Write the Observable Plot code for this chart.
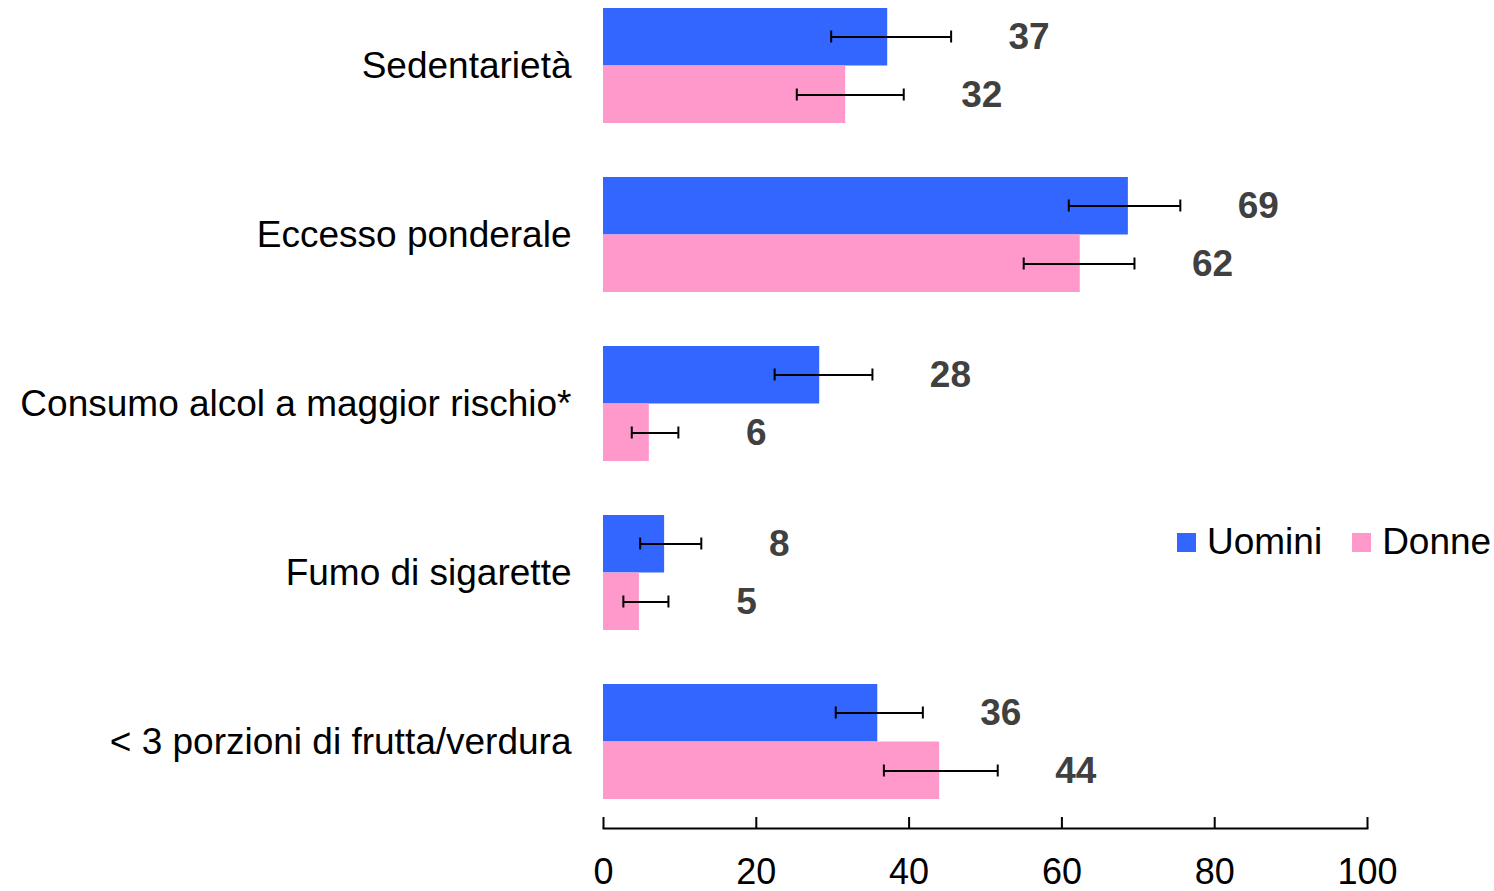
<!DOCTYPE html>
<html>
<head>
<meta charset="utf-8">
<script src="https://cdn.jsdelivr.net/npm/d3@7"></script>
<script src="https://cdn.jsdelivr.net/npm/@observablehq/plot@0.6"></script>
<style>
  html, body { margin: 0; padding: 0; background: #fff; }
  #wrap { position: relative; width: 1494px; height: 891px; font-family: "Liberation Sans", Arial, sans-serif; }
  #legend { position: absolute; left: 1177px; top: 521px; display: flex; align-items: center; font-size: 37px; color: #000; }
  #legend .sw { display: inline-block; width: 19px; height: 19px; margin-right: 11px; }
  #legend .item { display: flex; align-items: center; margin-right: 30px; }
</style>
</head>
<body>
<div id="wrap"></div>
<script>
const categories = ["Sedentarietà", "Eccesso ponderale", "Consumo alcol a maggior rischio*", "Fumo di sigarette", "< 3 porzioni di frutta/verdura"];
const series = ["Uomini", "Donne"];
const colors = ["#3366ff", "#ff99cc"];

const uomini   = [37.2, 68.7, 28.3, 8.0, 35.9];
const uominiLo = [29.8, 60.9, 22.4, 4.8, 30.4];
const uominiHi = [45.5, 75.5, 35.2, 12.8, 41.8];

const donne    = [31.7, 62.4, 6.0, 4.7, 44.0];
const donneLo  = [25.3, 55.0, 3.7, 2.6, 36.7];
const donneHi  = [39.3, 69.5, 9.8, 8.5, 51.6];

const xTicks = [0, 20, 40, 60, 80, 100];

const rowsU = categories.map((c, i) => ({cat: c, value: uomini[i], lo: uominiLo[i], hi: uominiHi[i]}));
const rowsD = categories.map((c, i) => ({cat: c, value: donne[i], lo: donneLo[i], hi: donneHi[i]}));

const half = 57.5;   // half of the category band, in px
const off = 29;      // offset of each sub-bar center from band center
const cap = 51.5;    // inset for error-bar caps

const labelFmt = d3.format(".0f");

function errMarks(rows, dy) {
  return [
    Plot.ruleY(rows, {y: "cat", x1: "lo", x2: "hi", dy, stroke: "#000", strokeWidth: 2}),
    Plot.tickX(rows, {y: "cat", x: "lo", dy, insetTop: cap, insetBottom: cap, stroke: "#000", strokeWidth: 2}),
    Plot.tickX(rows, {y: "cat", x: "hi", dy, insetTop: cap, insetBottom: cap, stroke: "#000", strokeWidth: 2}),
    Plot.text(rows, {y: "cat", x: "hi", text: d => labelFmt(d.value), dy, dx: 78, textAnchor: "middle",
      fontSize: 37, fontWeight: "bold", fill: "#404040", fontFamily: "Liberation Sans, Arial, sans-serif"})
  ];
}

const chart = Plot.plot({
  width: 1494,
  height: 891,
  marginLeft: 603,
  marginRight: 127,
  marginTop: 0,
  marginBottom: 63,
  style: {fontFamily: "Liberation Sans, Arial, sans-serif", background: "#fff", color: "#000"},
  x: {domain: [0, 100], label: null},
  y: {domain: categories, paddingInner: 0.32, paddingOuter: 0.106, align: 0.22, label: null},
  marks: [
    Plot.barX(rowsU, {y: "cat", x: "value", fill: colors[0], insetBottom: half}),
    Plot.barX(rowsD, {y: "cat", x: "value", fill: colors[1], insetTop: half}),
    ...errMarks(rowsU, -off),
    ...errMarks(rowsD, off),
    Plot.frame({anchor: "bottom", stroke: "#000", strokeWidth: 2}),
    Plot.axisX({ticks: xTicks, tickSize: -11, text: null, label: null, stroke: "#000", strokeWidth: 2}),
    Plot.axisX({ticks: xTicks, tickSize: 0, tickPadding: 30, fontSize: 36, fill: "#000", label: null}),
    Plot.axisY({tickSize: 0, tickPadding: 32, fontSize: 37, fill: "#000", label: null})
  ]
});

const wrap = document.getElementById("wrap");
wrap.appendChild(chart);

const legend = document.createElement("div");
legend.id = "legend";
series.forEach((s, i) => {
  const item = document.createElement("span");
  item.className = "item";
  const sw = document.createElement("span");
  sw.className = "sw";
  sw.style.background = colors[i];
  item.appendChild(sw);
  item.appendChild(document.createTextNode(s));
  legend.appendChild(item);
});
wrap.appendChild(legend);
</script>
</body>
</html>
